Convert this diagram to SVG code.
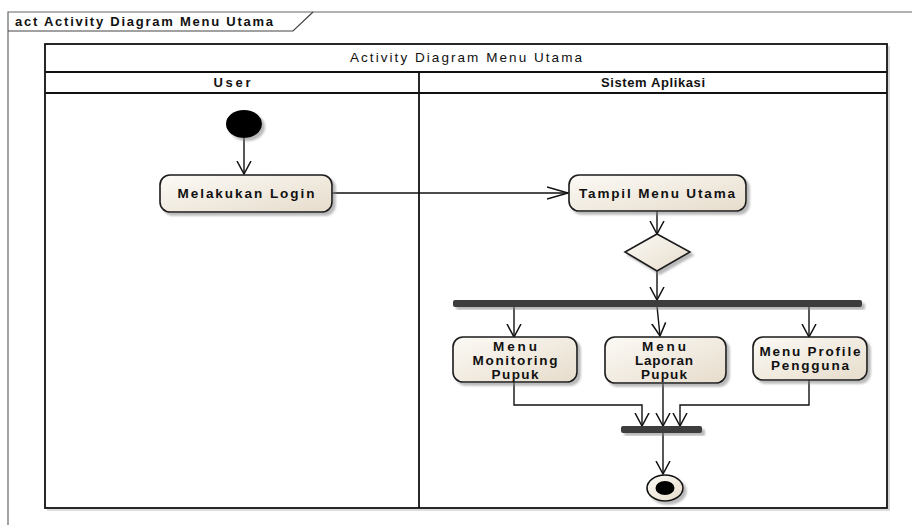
<svg xmlns="http://www.w3.org/2000/svg" width="912" height="525" viewBox="0 0 912 525">
<defs>
<linearGradient id="fillG" x1="0" y1="0" x2="1" y2="1">
<stop offset="0" stop-color="#fcfaf6"/>
<stop offset="1" stop-color="#e6dccb"/>
</linearGradient>
<filter id="sh" x="-20%" y="-20%" width="150%" height="160%">
<feDropShadow dx="3" dy="3" stdDeviation="1.2" flood-color="#808080" flood-opacity="0.55"/>
</filter>
<marker id="arr" markerUnits="userSpaceOnUse" viewBox="0 0 14 16" markerWidth="14" markerHeight="16" refX="13" refY="8" orient="auto">
<path d="M0,1 L13,8 L0,15" fill="none" stroke="#111" stroke-width="1.5"/>
</marker>
<marker id="arrH" markerUnits="userSpaceOnUse" viewBox="0 0 22 14" markerWidth="22" markerHeight="14" refX="21" refY="7" orient="auto">
<path d="M0,1 L21,7 L0,13" fill="none" stroke="#111" stroke-width="1.5"/>
</marker>
</defs>
<style>
.lbl{font-family:"Liberation Sans",Arial,sans-serif;font-weight:bold;font-size:13.5px;fill:#111;}
.hdr{font-family:"Liberation Sans",Arial,sans-serif;font-weight:bold;font-size:13px;fill:#111;}
.ttl{font-family:"Liberation Sans",Arial,sans-serif;font-size:13.5px;fill:#111;}
.box{fill:url(#fillG);stroke:#1a1a1a;stroke-width:1.6;filter:url(#sh);}
.edge{fill:none;stroke:#111;stroke-width:1.4;}
.bar{fill:#3c3c3c;}
.part{fill:none;stroke:#111;stroke-width:1.8;}
.pshadow{fill:none;stroke:#bdbdbd;stroke-width:1.2;}
</style>
<rect width="912" height="525" fill="#ffffff"/>

<g id="frame">
<path d="M8,525 L8,12 L912,12" fill="none" stroke="#666" stroke-width="1.2"/>
<path d="M8,31 L293,31 L313,12" fill="none" stroke="#444" stroke-width="1.2"/>
<text class="hdr" x="15" y="26" textLength="258" lengthAdjust="spacing">act Activity Diagram Menu Utama</text>
</g>

<g id="partition">
<path class="pshadow" d="M47,510 L889,510 L889,46"/>
<rect class="part" x="45" y="44" width="842" height="464"/>
<line class="part" x1="45" y1="72" x2="887" y2="72"/>
<line class="part" x1="45" y1="93" x2="887" y2="93"/>
<line class="part" x1="419" y1="72" x2="419" y2="508"/>
<text class="ttl" x="466" y="62" text-anchor="middle" textLength="232" lengthAdjust="spacing">Activity Diagram Menu Utama</text>
<text class="hdr" x="232" y="87" text-anchor="middle" textLength="37" lengthAdjust="spacing">User</text>
<text class="hdr" x="653" y="87" text-anchor="middle" textLength="104" lengthAdjust="spacing">Sistem Aplikasi</text>
</g>

<g id="connectors">
<line class="edge" x1="244" y1="138" x2="244" y2="174" marker-end="url(#arr)"/>
<line class="edge" x1="332" y1="193" x2="568" y2="193" marker-end="url(#arrH)"/>
<line class="edge" x1="657" y1="211" x2="657" y2="234" marker-end="url(#arr)"/>
<line class="edge" x1="657" y1="271" x2="657" y2="300" marker-end="url(#arr)"/>
<line class="edge" x1="514" y1="306" x2="514" y2="337" marker-end="url(#arr)"/>
<line class="edge" x1="657" y1="306" x2="660" y2="336" marker-end="url(#arr)"/>
<line class="edge" x1="809" y1="306" x2="809" y2="337" marker-end="url(#arr)"/>
<polyline class="edge" points="514,382 514,405 642,405 642,426" marker-end="url(#arr)"/>
<line class="edge" x1="663" y1="383" x2="663" y2="426" marker-end="url(#arr)"/>
<polyline class="edge" points="809,380 809,405 680,405 680,426" marker-end="url(#arr)"/>
<line class="edge" x1="663" y1="432" x2="663" y2="474" marker-end="url(#arr)"/>
</g>

<g id="start">
<ellipse cx="244" cy="124" rx="18" ry="14" fill="#000" filter="url(#sh)"/>
</g>

<g id="login">
<rect class="box" x="160" y="175" width="172" height="37" rx="10"/>
<text class="lbl" x="246" y="198" text-anchor="middle" textLength="137" lengthAdjust="spacing">Melakukan Login</text>
</g>

<g id="tampil">
<rect class="box" x="569" y="175" width="177" height="36" rx="10"/>
<text class="lbl" x="657" y="198" text-anchor="middle" textLength="156" lengthAdjust="spacing">Tampil Menu Utama</text>
</g>

<g id="decision">
<polygon class="box" points="657,234 690,252 657,271 625,252"/>
</g>

<g id="fork">
<rect class="bar" x="453" y="300" width="409" height="7" rx="2" filter="url(#sh)"/>
</g>

<g id="monitoring">
<rect class="box" x="453" y="337" width="124" height="45" rx="10"/>
<text class="lbl" x="515" y="351" text-anchor="middle" textLength="44" lengthAdjust="spacing">Menu</text>
<text class="lbl" x="515" y="365" text-anchor="middle" textLength="85" lengthAdjust="spacing">Monitoring</text>
<text class="lbl" x="515" y="379" text-anchor="middle" textLength="47" lengthAdjust="spacing">Pupuk</text>
</g>

<g id="laporan">
<rect class="box" x="605" y="337" width="121" height="46" rx="10"/>
<text class="lbl" x="664" y="351" text-anchor="middle" textLength="44" lengthAdjust="spacing">Menu</text>
<text class="lbl" x="664" y="365" text-anchor="middle" textLength="58" lengthAdjust="spacing">Laporan</text>
<text class="lbl" x="664" y="379" text-anchor="middle" textLength="46" lengthAdjust="spacing">Pupuk</text>
</g>

<g id="profile">
<rect class="box" x="753" y="337" width="114" height="43" rx="10"/>
<text class="lbl" x="810" y="356" text-anchor="middle" textLength="101" lengthAdjust="spacing">Menu Profile</text>
<text class="lbl" x="810" y="370" text-anchor="middle" textLength="78" lengthAdjust="spacing">Pengguna</text>
</g>

<g id="join">
<rect class="bar" x="621" y="426" width="81" height="7" rx="2" filter="url(#sh)"/>
</g>

<g id="end">
<ellipse cx="665" cy="488" rx="18" ry="13" fill="url(#fillG)" stroke="#111" stroke-width="1.6" filter="url(#sh)"/>
<ellipse cx="665" cy="488" rx="9.5" ry="7" fill="#000"/>
</g>
</svg>
